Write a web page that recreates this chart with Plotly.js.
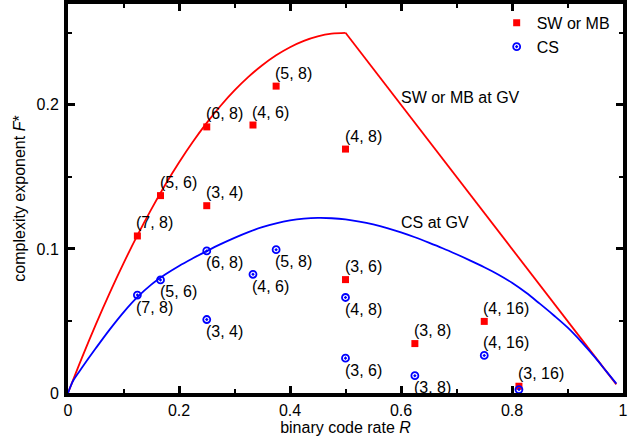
<!DOCTYPE html>
<html>
<head>
<meta charset="utf-8">
<script src="https://cdn.plot.ly/plotly-3.0.1.min.js"></script>
<style>html,body{margin:0;padding:0;background:#fff;}#chart{width:644px;height:441px;}</style>
</head>
<body>
<div id="chart"></div>
<script>
// Code points: (dv, dc) pairs and their binary code rates
const codeRate = [0.125, 0.1667, 0.25, 0.25, 0.3333, 0.375, 0.5, 0.5, 0.625, 0.75, 0.8125];
const swmbLabels = ["(7, 8)", "(5, 6)", "(3, 4)", "(6, 8)", "(4, 6)", "(5, 8)", "(4, 8)", "(3, 6)", "(3, 8)", "(4, 16)", "(3, 16)"];
const csLabels = ["(7, 8)", "(5, 6)", "(3, 4)", "(6, 8)", "(4, 6)", "(5, 8)", "(4, 8)", "(3, 6)", "(3, 8)", "(4, 16)", ""];
const swmbF = [0.109, 0.137, 0.130, 0.1847, 0.186, 0.213, 0.1693, 0.0787, 0.0343, 0.0497, 0.0047];
const csF = [0.068, 0.0785, 0.051, 0.0986, 0.0824, 0.0995, 0.0663, 0.0242, 0.012, 0.0261, 0.0024];

// "SW or MB at GV" curve: arc up to R=0.5, then straight segment
const swmbArcR = [0, 0.025, 0.05, 0.075, 0.1, 0.125, 0.15, 0.175, 0.2, 0.225, 0.25, 0.275, 0.3, 0.325, 0.35, 0.375, 0.4, 0.425, 0.45, 0.475, 0.5];
const swmbArcF = [0, 0.0244, 0.0475, 0.0694, 0.09, 0.1094, 0.1275, 0.1444, 0.16, 0.1744, 0.1875, 0.1994, 0.21, 0.2194, 0.2275, 0.2344, 0.24, 0.2444, 0.2475, 0.2494, 0.25];
const swmbLineR = [0.5, 0.988];
const swmbLineF = [0.25, 0.006];

// "CS at GV" curve
const csCurveR = [0, 0.005, 0.01, 0.025, 0.05, 0.075, 0.1, 0.125, 0.15, 0.175, 0.2, 0.225, 0.25, 0.275, 0.3, 0.325, 0.35, 0.375, 0.4, 0.425, 0.45, 0.475, 0.5, 0.525, 0.55, 0.575, 0.6, 0.625, 0.65, 0.675, 0.7, 0.725, 0.75, 0.775, 0.8, 0.825, 0.85, 0.875, 0.9, 0.925, 0.95, 0.97, 0.988];
const csCurveF = [0, 0.005, 0.009, 0.0175, 0.031, 0.044, 0.056, 0.0665, 0.0752, 0.0822, 0.0882, 0.0935, 0.0985, 0.1033, 0.1077, 0.1117, 0.1151, 0.1178, 0.1198, 0.121, 0.1215, 0.1213, 0.1205, 0.119, 0.117, 0.1145, 0.1115, 0.1081, 0.1044, 0.1005, 0.0963, 0.0919, 0.0873, 0.0823, 0.0765, 0.0697, 0.062, 0.054, 0.0455, 0.0355, 0.0245, 0.015, 0.0065];

const FONT = "Liberation Sans, Arial, Helvetica, sans-serif";
const RED = "#ff0000";
const BLUE = "#0000ff";

const traces = [
  {x: swmbArcR, y: swmbArcF, mode: "lines", line: {color: RED, width: 1.8, shape: "spline", smoothing: 1, simplify: false}, showlegend: false, hoverinfo: "skip"},
  {x: swmbLineR, y: swmbLineF, mode: "lines", line: {color: RED, width: 1.8, simplify: false}, showlegend: false, hoverinfo: "skip"},
  {x: csCurveR, y: csCurveF, mode: "lines", line: {color: BLUE, width: 1.8, shape: "spline", smoothing: 1, simplify: false}, showlegend: false, hoverinfo: "skip"},
  {x: codeRate, y: swmbF, mode: "markers", name: "SW or MB", marker: {symbol: "square", size: 7, color: RED}},
  {x: codeRate, y: csF, mode: "markers", name: "CS", marker: {symbol: "circle-open-dot", size: 7, color: BLUE, line: {width: 1.8, color: BLUE}}}
];

const labelFont = {family: FONT, size: 16, color: "#000"};
const annotations = [];
codeRate.forEach((r, i) => {
  if (swmbLabels[i]) annotations.push({x: r, y: swmbF[i], xref: "x", yref: "y", text: swmbLabels[i], showarrow: false, xanchor: "left", yanchor: "middle", xshift: -3, yshift: 13, font: labelFont});
  if (csLabels[i]) {
    const above = csLabels[i] === "(4, 16)";
    annotations.push({x: r, y: csF[i], xref: "x", yref: "y", text: csLabels[i], showarrow: false, xanchor: "left", yanchor: "middle", xshift: -3, yshift: above ? 13 : -12, font: labelFont});
  }
});
annotations.push({x: 0.597, y: 0.2048, xref: "x", yref: "y", text: "SW or MB at GV", showarrow: false, xanchor: "left", yanchor: "middle", font: labelFont});
annotations.push({x: 0.597, y: 0.1184, xref: "x", yref: "y", text: "CS at GV", showarrow: false, xanchor: "left", yanchor: "middle", font: labelFont});

const axisCommon = {
  showline: true, linecolor: "#000", linewidth: 4, mirror: "allticks",
  ticks: "inside", ticklen: 7, tickwidth: 3, tickcolor: "#000",
  showgrid: false, zeroline: false,
  tickfont: {family: FONT, size: 16, color: "#000"}
};

const layout = {
  width: 644, height: 441,
  margin: {l: 68, r: 21, t: 4, b: 48},
  paper_bgcolor: "#fff", plot_bgcolor: "#fff",
  font: {family: FONT, size: 16, color: "#000"},
  xaxis: Object.assign({}, axisCommon, {
    range: [0, 1], dtick: 0.2, tick0: 0,
    minor: {dtick: 0.1, ticks: "inside", ticklen: 4, tickwidth: 2, tickcolor: "#000", showgrid: false},
    title: {text: "binary code rate <i>R</i>", font: {family: FONT, size: 16, color: "#000"}, standoff: 4}
  }),
  yaxis: Object.assign({}, axisCommon, {
    range: [0, 0.27], dtick: 0.1, tick0: 0,
    ticklabelstandoff: 2,
    minor: {dtick: 0.05, ticks: "inside", ticklen: 4, tickwidth: 2, tickcolor: "#000", showgrid: false},
    title: {text: "complexity exponent <i>F</i>*", font: {family: FONT, size: 16, color: "#000"}, standoff: 8}
  }),
  legend: {x: 0.985, xanchor: "right", y: 0.995, yanchor: "top", bgcolor: "rgba(0,0,0,0)", font: {family: FONT, size: 16, color: "#000"}, tracegroupgap: 0},
  annotations: annotations,
  showlegend: true
};

Plotly.newPlot("chart", traces, layout, {displayModeBar: false, staticPlot: true});
</script>
</body>
</html>
